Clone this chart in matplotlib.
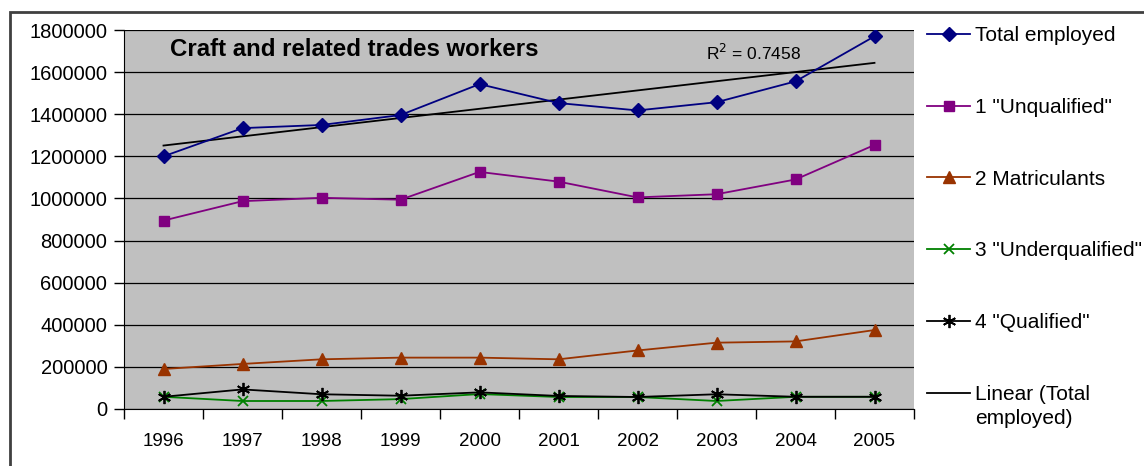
import matplotlib
matplotlib.use("Agg")
import matplotlib.pyplot as plt
import numpy as np
from matplotlib.patches import Rectangle

plt.rcParams['font.family'] = ['Liberation Sans', 'DejaVu Sans']

years = ["1996", "1997", "1998", "1999", "2000", "2001", "2002", "2003", "2004", "2005"]
total_employed = [1200000, 1334000, 1349000, 1396000, 1543000, 1453000, 1418000, 1457000, 1556000, 1770000]
unqualified = [895000, 987000, 1003000, 994000, 1126000, 1080000, 1005000, 1020000, 1090000, 1254000]
matriculants = [190000, 214000, 236000, 244000, 244000, 236000, 278000, 315000, 321000, 375000]
underqualified = [58000, 38000, 38000, 47000, 71000, 57000, 57000, 38000, 58000, 58000]
qualified = [58000, 93000, 70000, 63000, 79000, 62000, 57000, 70000, 58000, 58000]
r2_label = "R$^2$ = 0.7458"
title = "Craft and related trades workers"

W, H = 1144, 466
fig = plt.figure(figsize=(W / 100, H / 100), dpi=100)
fig.patch.set_facecolor("white")

# outer chart border
fig.patches.append(Rectangle((10 / W, -0.1), 1.2, (H - 12) / H + 0.1, transform=fig.transFigure,
                             fill=False, edgecolor="#404040", linewidth=2.0, zorder=0))

ax = fig.add_axes([124 / W, (H - 409) / H, 790 / W, 379 / H])
ax.set_facecolor("#C0C0C0")

x = np.arange(len(years))
lw = 1.3
ax.plot(x, total_employed, color="#000080", marker="D", markersize=7, lw=lw, label="Total employed", zorder=5)
ax.plot(x, unqualified, color="#800080", marker="s", markersize=7.5, lw=lw, label='1 "Unqualified"', zorder=5)
ax.plot(x, matriculants, color="#993300", marker="^", markersize=8.5, lw=lw, label="2 Matriculants", zorder=5)
ax.plot(x, underqualified, color="#008000", marker="x", markersize=7.5, mew=1.3, lw=lw, label='3 "Underqualified"', zorder=5)
ax.plot(x, qualified, color="black", marker=(6, 2, 0), markersize=9.5, mew=1.3, lw=lw, label='4 "Qualified"', zorder=6)

coef = np.polyfit(x, total_employed, 1)
ax.plot(x, np.polyval(coef, x), color="black", lw=1.3, label="Linear (Total", zorder=4)

ax.set_xlim(-0.5, len(years) - 0.5)
ax.set_ylim(0, 1800000)
ax.set_yticks(np.arange(0, 1800001, 200000))
ax.set_yticklabels([str(v) for v in range(0, 1800001, 200000)], fontsize=14.5)
ax.set_xticks(x)
ax.set_xticklabels(years, fontsize=13.5)
ax.set_xticks(np.arange(-0.5, len(years), 1), minor=True)
ax.tick_params(axis="x", which="major", length=0, pad=17)
ax.tick_params(axis="x", which="minor", length=7, width=1, color="black")
ax.tick_params(axis="y", length=7, width=1, pad=5, color="black")
ax.yaxis.grid(True, color="black", lw=0.9)
ax.set_axisbelow(True)
for s in ["top", "right"]:
    ax.spines[s].set_visible(False)
ax.spines["left"].set_color("black")
ax.spines["bottom"].set_color("black")

ax.text(0.058, 0.948, title, transform=ax.transAxes, fontsize=17.3, fontweight="bold", va="center", ha="left")
ax.text(0.797, 0.94, r2_label, transform=ax.transAxes, fontsize=12.5, va="center", ha="center")

leg_fs = 15
leg = ax.legend(loc="upper left", bbox_to_anchor=(919 / W, (H - 18) / H), bbox_transform=fig.transFigure,
                frameon=False, fontsize=leg_fs, labelspacing=2.53, handlelength=2.07, handletextpad=0.24,
                borderaxespad=0)

fig.canvas.draw()
renderer = fig.canvas.get_renderer()
bb = leg.get_texts()[-1].get_window_extent(renderer)
fig.text(bb.x0 / W, (bb.y0 - 24) / H, "employed)", fontsize=leg_fs, ha="left", va="bottom")

fig.savefig("out.png", dpi=100)
